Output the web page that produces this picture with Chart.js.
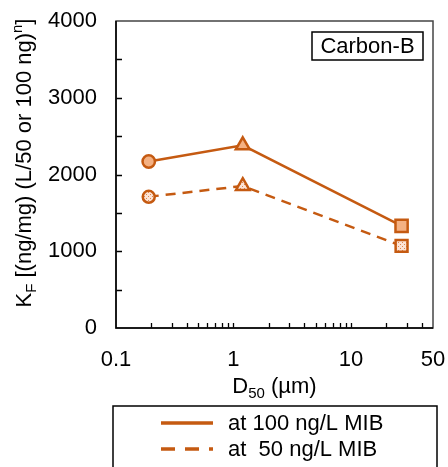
<!DOCTYPE html>
<html><head><meta charset="utf-8">
<script src="https://cdn.jsdelivr.net/npm/chart.js@4/dist/chart.umd.min.js"></script>
<style>html,body{margin:0;padding:0;background:#fff}#wrap{width:448px;height:467px;position:relative}</style>
</head><body><div id="wrap"><canvas id="c" width="448" height="467"></canvas></div>
<script>
// ---- data ----
const d50 = [0.19, 1.2, 27];
const kf100 = [2170, 2380, 1330];
const kf50 = [1710, 1850, 1070];
const pointStyles = ['circle', 'triangle', 'rect'];
const xTickValues = [0.1, 1, 10, 50];
const yTickValues = [0, 1000, 2000, 3000, 4000];
const xMinorValues = [0.2,0.3,0.4,0.5,0.6,0.7,0.8,0.9,2,3,4,5,6,7,8,9,20,30,40];
const yMinorValues = [500,1500,2500,3500];
const seriesLabels = ['at 100 ng/L MIB', 'at  50 ng/L MIB'];
const panelLabel = 'Carbon-B';

const ORANGE = '#C55A11';
const LIGHT = '#F4B183';
const FONT = "'Liberation Sans', Arial, sans-serif";
const FS = 22;

function makePattern() {
  const p = document.createElement('canvas');
  p.width = 4; p.height = 4;
  const g = p.getContext('2d');
  g.fillStyle = '#FCE4D6'; g.fillRect(0,0,4,4);
  g.fillStyle = '#E08850';
  g.fillRect(0,0,1,1); g.fillRect(2,2,1,1);
  return g.createPattern(p, 'repeat');
}
const pat = makePattern();

const decor = {
  id: 'decor',
  afterDraw(chart) {
    const ctx = chart.ctx, a = chart.chartArea;
    const xs = chart.scales.x, ys = chart.scales.y;
    ctx.save();
    // inward ticks
    ctx.strokeStyle = '#000'; ctx.lineWidth = 1.3;
    ctx.beginPath();
    [1000,2000,3000].concat(yMinorValues).forEach(v => {
      const y = Math.round(ys.getPixelForValue(v)) + 0.5;
      ctx.moveTo(a.left, y); ctx.lineTo(a.left + 6, y);
    });
    xMinorValues.concat([1,10]).forEach(v => {
      const x = Math.round(xs.getPixelForValue(v)) + 0.5;
      ctx.moveTo(x, a.bottom); ctx.lineTo(x, a.bottom - 5);
    });
    ctx.stroke();
    // plot frame
    ctx.strokeStyle = '#444'; ctx.lineWidth = 1.5;
    ctx.strokeRect(a.left, a.top, a.right - a.left, a.bottom - a.top);
    ctx.strokeStyle = '#000'; ctx.lineWidth = 1.5;
    ctx.beginPath(); ctx.moveTo(a.left, a.top); ctx.lineTo(a.left, a.bottom); ctx.lineTo(a.right, a.bottom); ctx.stroke();

    // panel label
    ctx.fillStyle = '#000';
    ctx.font = FS + 'px ' + FONT;
    ctx.lineWidth = 1.5; ctx.strokeStyle = '#000';
    ctx.strokeRect(312, 32, 111, 28);
    ctx.textAlign = 'center'; ctx.textBaseline = 'middle';
    ctx.fillText(panelLabel, 367.5, 47);

    // x title: D50 (µm)
    const big = FS + 'px ' + FONT, small = Math.round(FS*0.68) + 'px ' + FONT;
    ctx.textAlign = 'left'; ctx.textBaseline = 'alphabetic';
    const xParts = [['D', big, 0], ['50', small, 5], [' (µm)', big, 0]];
    let w = 0;
    xParts.forEach(p => { ctx.font = p[1]; w += ctx.measureText(p[0]).width; });
    let cx = (a.left + a.right) / 2 - w / 2;
    const by = 393;
    xParts.forEach(p => { ctx.font = p[1]; ctx.fillText(p[0], cx, by + p[2]); cx += ctx.measureText(p[0]).width; });

    // y title rotated
    ctx.save();
    ctx.translate(31, 163);
    ctx.rotate(-Math.PI / 2);
    ctx.font = big;
    const yParts = [['K', big, 0], ['F', small, 5], [' [(ng/mg) (L/50 or 100 ng)', big, 0], ['n', small, -9], [']', big, 0]];
    w = 0;
    yParts.forEach(p => { ctx.font = p[1]; w += ctx.measureText(p[0]).width; });
    cx = -w / 2;
    yParts.forEach(p => { ctx.font = p[1]; ctx.fillText(p[0], cx, p[2]); cx += ctx.measureText(p[0]).width; });
    ctx.restore();

    // legend box
    ctx.strokeStyle = '#000'; ctx.lineWidth = 1.5;
    ctx.strokeRect(113, 406, 324, 90);
    ctx.strokeStyle = ORANGE; ctx.lineWidth = 3.5;
    ctx.beginPath(); ctx.moveTo(161, 423); ctx.lineTo(213, 423); ctx.stroke();
    ctx.setLineDash([14, 10]);
    ctx.beginPath(); ctx.moveTo(161, 449); ctx.lineTo(213, 449); ctx.stroke();
    ctx.setLineDash([]);
    ctx.fillStyle = '#000'; ctx.font = big; ctx.textBaseline = 'middle';
    ctx.fillText(seriesLabels[0], 228, 424);
    ctx.fillText(seriesLabels[1], 228, 450);
    ctx.restore();
  }
};

new Chart(document.getElementById('c'), {
  type: 'scatter',
  data: {
    datasets: [
      {
        label: seriesLabels[0],
        data: d50.map((x, i) => ({x, y: kf100[i]})),
        showLine: true,
        borderColor: ORANGE, borderWidth: 2.5,
        pointStyle: pointStyles, pointRadius: [6.2, 8, 8.6],
        pointBackgroundColor: LIGHT, pointBorderColor: ORANGE, pointBorderWidth: 2.5,
        order: 1
      },
      {
        label: seriesLabels[1],
        data: d50.map((x, i) => ({x, y: kf50[i]})),
        showLine: true,
        borderColor: ORANGE, borderWidth: 2.5, borderDash: [10, 7],
        pointStyle: pointStyles, pointRadius: [6, 7.8, 8.4],
        pointBackgroundColor: pat, pointBorderColor: ORANGE, pointBorderWidth: 2.5,
        order: 2
      }
    ]
  },
  options: {
    responsive: false, animation: false,
    layout: { padding: { left: 0, right: 15, top: 21, bottom: 0 } },
    plugins: { legend: { display: false }, tooltip: { enabled: false } },
    scales: {
      x: {
        type: 'logarithmic', min: 0.1, max: 50,
        afterBuildTicks: s => { s.ticks = xTickValues.map(v => ({value: v})); },
        afterFit: s => { s.height = 139; s.paddingLeft = 0; s.paddingRight = 0; },
        grid: { display: false, drawTicks: false },
        border: { display: false },
        ticks: { color: '#000', font: { family: FONT, size: FS }, padding: 19, maxRotation: 0, autoSkip: false,
                 callback: v => String(v) }
      },
      y: {
        min: 0, max: 4000,
        afterBuildTicks: s => { s.ticks = yTickValues.map(v => ({value: v})); },
        afterFit: s => { s.width = 116; s.paddingTop = 0; s.paddingBottom = 0; },
        grid: { display: false, drawTicks: false },
        border: { display: false },
        ticks: { color: '#000', font: { family: FONT, size: FS }, padding: 19, callback: v => String(v) }
      }
    }
  },
  plugins: [decor]
});
</script></body></html>
